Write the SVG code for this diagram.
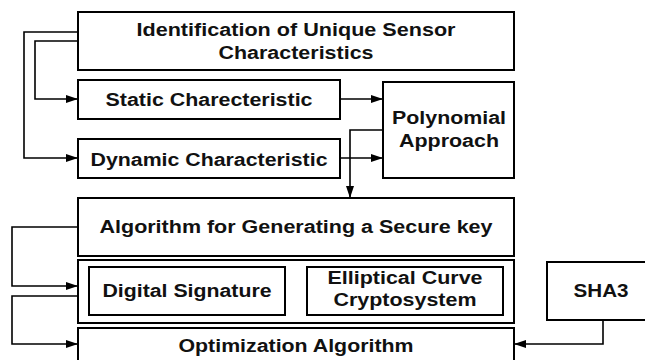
<svg xmlns="http://www.w3.org/2000/svg" width="645" height="360" viewBox="0 0 645 360">
<defs>
<marker id="ah" markerWidth="12" markerHeight="8" refX="12" refY="4" orient="auto" markerUnits="userSpaceOnUse">
<path d="M0,0 L12,4 L0,8 Z" fill="#000"/>
</marker>
<style>
.box{fill:#fff;stroke:#000;stroke-width:2}
.t{font-family:"Liberation Sans",Arial,sans-serif;font-weight:bold;font-size:18px;text-anchor:middle;fill:#111}
.c{fill:none;stroke:#000;stroke-width:1.6;marker-end:url(#ah)}
</style>
</defs>
<rect width="645" height="360" fill="#fff"/>
<g id="identification">
<rect class="box" x="78" y="12" width="436" height="58"/>
<text class="t" x="296" y="36" textLength="319" lengthAdjust="spacingAndGlyphs">Identification of Unique Sensor</text>
<text class="t" x="296" y="59" textLength="155" lengthAdjust="spacingAndGlyphs">Characteristics</text>
</g>
<g id="static">
<rect class="box" x="78" y="80" width="262" height="39"/>
<text class="t" x="209" y="106" textLength="207" lengthAdjust="spacingAndGlyphs">Static Charecteristic</text>
</g>
<g id="dynamic">
<rect class="box" x="78" y="139" width="262" height="39"/>
<text class="t" x="209" y="166" textLength="237" lengthAdjust="spacingAndGlyphs">Dynamic Characteristic</text>
</g>
<g id="polynomial">
<rect class="box" x="383" y="82" width="131" height="96"/>
<text class="t" x="449" y="124" textLength="114" lengthAdjust="spacingAndGlyphs">Polynomial</text>
<text class="t" x="449" y="147" textLength="100" lengthAdjust="spacingAndGlyphs">Approach</text>
</g>
<g id="algorithm">
<rect class="box" x="78" y="198" width="436" height="58"/>
<text class="t" x="296" y="233" textLength="393" lengthAdjust="spacingAndGlyphs">Algorithm for Generating a Secure key</text>
</g>
<g id="crypto">
<rect class="box" x="78" y="260" width="436" height="63"/>
</g>
<g id="digital-signature">
<rect class="box" x="89" y="267" width="196" height="48"/>
<text class="t" x="187" y="297" textLength="169" lengthAdjust="spacingAndGlyphs">Digital Signature</text>
</g>
<g id="ecc">
<rect class="box" x="307" y="267" width="196" height="48"/>
<text class="t" x="405" y="284" textLength="155" lengthAdjust="spacingAndGlyphs">Elliptical Curve</text>
<text class="t" x="405" y="306" textLength="143" lengthAdjust="spacingAndGlyphs">Cryptosystem</text>
</g>
<g id="optimization">
<rect class="box" x="78" y="328" width="436" height="40"/>
<text class="t" x="296" y="352" textLength="235" lengthAdjust="spacingAndGlyphs">Optimization Algorithm</text>
</g>
<g id="sha3">
<rect class="box" x="547" y="262" width="110" height="58"/>
<text class="t" x="601" y="297" textLength="55" lengthAdjust="spacingAndGlyphs">SHA3</text>
</g>
<g id="connectors">
<path class="c" d="M78,32 H24 V158 H78"/>
<path class="c" d="M78,41 H35 V99 H78"/>
<path class="c" d="M340,99 H383"/>
<path class="c" d="M340,158 H383"/>
<path class="c" d="M383,130 H350 V198"/>
<path class="c" d="M78,227 H12 V286 H78"/>
<path class="c" d="M78,296 H12 V344 H78"/>
<path class="c" d="M603,320 V344 H514"/>
</g>
</svg>
